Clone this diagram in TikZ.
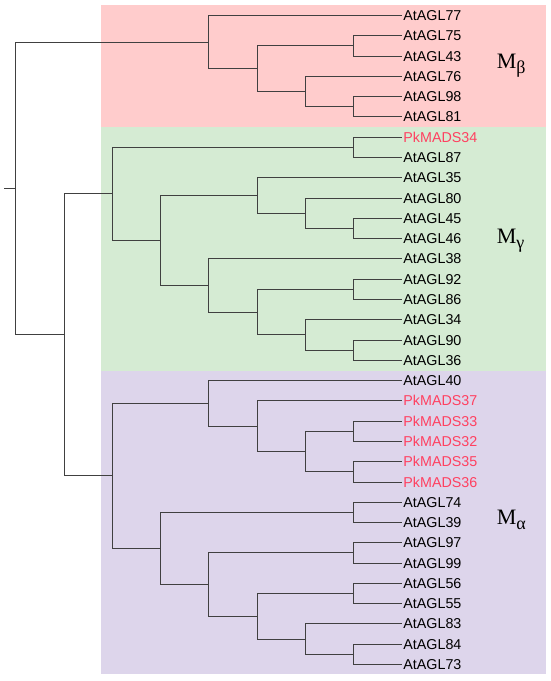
\documentclass[tikz,border=0pt]{standalone}
\usepackage{fontspec}
\setmainfont{Liberation Serif}
\newfontfamily\labfont{Liberation Sans}
\definecolor{pinkbg}{RGB}{255,204,204}
\definecolor{greenbg}{RGB}{213,235,211}
\definecolor{purplebg}{RGB}{221,213,235}
\definecolor{branch}{RGB}{64,64,64}
\definecolor{pkred}{RGB}{255,64,96}
\tikzset{
  leaf/.style={anchor=west, inner sep=1.5pt, font=\labfont\fontsize{14.3}{15}\selectfont, text=black},
  pk/.style={leaf, text=pkred},
  br/.style={draw=branch, line width=1.9pt},
  clade/.style={anchor=base west, inner sep=0pt, font=\fontsize{22}{22}\selectfont}
}
\newcommand{\subg}[1]{\raisebox{-5pt}{\fontsize{18}{18}\selectfont #1}}
\begin{document}
\begin{tikzpicture}[x=1pt,y=-1pt]
\useasboundingbox (0,0) rectangle (550,681);
% backgrounds
\fill[pinkbg] (100.7,5) rectangle (545.5,126.7);
\fill[greenbg] (100.7,126.7) rectangle (545.5,370.7);
\fill[purplebg] (100.7,370.7) rectangle (545.5,674.3);
% leaves
\node[leaf] (l77) at (401.7,15.5) {AtAGL77};
\node[leaf] (l75) at (401.7,35.5) {AtAGL75};
\node[leaf] (l43) at (401.7,56.5) {AtAGL43};
\node[leaf] (l76) at (401.7,76.5) {AtAGL76};
\node[leaf] (l98) at (401.7,96.5) {AtAGL98};
\node[leaf] (l81) at (401.7,116.5) {AtAGL81};
\node[pk] (p34) at (401.7,137.5) {PkMADS34};
\node[leaf] (l87) at (401.7,157.5) {AtAGL87};
\node[leaf] (l35) at (401.7,177.5) {AtAGL35};
\node[leaf] (l80) at (401.7,198.5) {AtAGL80};
\node[leaf] (l45) at (401.7,218.5) {AtAGL45};
\node[leaf] (l46) at (401.7,238.5) {AtAGL46};
\node[leaf] (l38) at (401.7,258.5) {AtAGL38};
\node[leaf] (l92) at (401.7,279.5) {AtAGL92};
\node[leaf] (l86) at (401.7,299.5) {AtAGL86};
\node[leaf] (l34) at (401.7,319.5) {AtAGL34};
\node[leaf] (l90) at (401.7,340.5) {AtAGL90};
\node[leaf] (l36) at (401.7,360.5) {AtAGL36};
\node[leaf] (l40) at (401.7,380.5) {AtAGL40};
\node[pk] (p37) at (401.7,400.5) {PkMADS37};
\node[pk] (p33) at (401.7,421.5) {PkMADS33};
\node[pk] (p32) at (401.7,441.5) {PkMADS32};
\node[pk] (p35) at (401.7,461.5) {PkMADS35};
\node[pk] (p36) at (401.7,482.5) {PkMADS36};
\node[leaf] (l74) at (401.7,502.5) {AtAGL74};
\node[leaf] (l39) at (401.7,522.5) {AtAGL39};
\node[leaf] (l97) at (401.7,542.5) {AtAGL97};
\node[leaf] (l99) at (401.7,563.5) {AtAGL99};
\node[leaf] (l56) at (401.7,583.5) {AtAGL56};
\node[leaf] (l55) at (401.7,603.5) {AtAGL55};
\node[leaf] (l83) at (401.7,623.5) {AtAGL83};
\node[leaf] (l84) at (401.7,644.5) {AtAGL84};
\node[leaf] (l73) at (401.7,664.5) {AtAGL73};
% internal nodes
\coordinate (stub) at (4,188.5);
\coordinate (root) at (15.5,188.5);
\coordinate (bet) at (208.5,42.5);
\coordinate (b1) at (257.5,68.5);
\coordinate (b7543) at (353.5,45.5);
\coordinate (b2) at (305.5,91.5);
\coordinate (b9881) at (353.5,106.5);
\coordinate (anc) at (64.5,334.5);
\coordinate (gam) at (112.5,193.5);
\coordinate (g3487) at (353.5,147.5);
\coordinate (g1) at (160.5,240.5);
\coordinate (g2) at (257.5,195.5);
\coordinate (g2b) at (305.5,213.5);
\coordinate (g4546) at (353.5,228.5);
\coordinate (g3) at (208.5,285.5);
\coordinate (g3b) at (257.5,312.5);
\coordinate (g9286) at (353.5,289.5);
\coordinate (g3c) at (305.5,334.5);
\coordinate (g9036) at (353.5,350.5);
\coordinate (alp) at (112.5,475.5);
\coordinate (a1) at (208.5,403.5);
\coordinate (a1b) at (257.5,426.5);
\coordinate (a1c) at (305.5,451.5);
\coordinate (a3332) at (353.5,431.5);
\coordinate (a3536) at (353.5,471.5);
\coordinate (a2) at (160.5,548.5);
\coordinate (a7439) at (353.5,512.5);
\coordinate (a2b) at (208.5,584.5);
\coordinate (a9799) at (353.5,552.5);
\coordinate (a2c) at (257.5,616.5);
\coordinate (a5655) at (353.5,593.5);
\coordinate (a2d) at (305.5,639.5);
\coordinate (a8473) at (353.5,654.5);
% branches
\draw[br] (stub) -- (root);
\draw[br] (root) |- (bet); \draw[br] (root) |- (anc);
\draw[br] (bet) |- (l77.west); \draw[br] (bet) |- (b1);
\draw[br] (b1) |- (b7543); \draw[br] (b1) |- (b2);
\draw[br] (b7543) |- (l75.west); \draw[br] (b7543) |- (l43.west);
\draw[br] (b2) |- (l76.west); \draw[br] (b2) |- (b9881);
\draw[br] (b9881) |- (l98.west); \draw[br] (b9881) |- (l81.west);
\draw[br] (anc) |- (gam); \draw[br] (anc) |- (alp);
\draw[br] (gam) |- (g3487); \draw[br] (gam) |- (g1);
\draw[br] (g3487) |- (p34.west); \draw[br] (g3487) |- (l87.west);
\draw[br] (g1) |- (g2); \draw[br] (g1) |- (g3);
\draw[br] (g2) |- (l35.west); \draw[br] (g2) |- (g2b);
\draw[br] (g2b) |- (l80.west); \draw[br] (g2b) |- (g4546);
\draw[br] (g4546) |- (l45.west); \draw[br] (g4546) |- (l46.west);
\draw[br] (g3) |- (l38.west); \draw[br] (g3) |- (g3b);
\draw[br] (g3b) |- (g9286); \draw[br] (g3b) |- (g3c);
\draw[br] (g9286) |- (l92.west); \draw[br] (g9286) |- (l86.west);
\draw[br] (g3c) |- (l34.west); \draw[br] (g3c) |- (g9036);
\draw[br] (g9036) |- (l90.west); \draw[br] (g9036) |- (l36.west);
\draw[br] (alp) |- (a1); \draw[br] (alp) |- (a2);
\draw[br] (a1) |- (l40.west); \draw[br] (a1) |- (a1b);
\draw[br] (a1b) |- (p37.west); \draw[br] (a1b) |- (a1c);
\draw[br] (a1c) |- (a3332); \draw[br] (a1c) |- (a3536);
\draw[br] (a3332) |- (p33.west); \draw[br] (a3332) |- (p32.west);
\draw[br] (a3536) |- (p35.west); \draw[br] (a3536) |- (p36.west);
\draw[br] (a2) |- (a7439); \draw[br] (a2) |- (a2b);
\draw[br] (a7439) |- (l74.west); \draw[br] (a7439) |- (l39.west);
\draw[br] (a2b) |- (a9799); \draw[br] (a2b) |- (a2c);
\draw[br] (a9799) |- (l97.west); \draw[br] (a9799) |- (l99.west);
\draw[br] (a2c) |- (a5655); \draw[br] (a2c) |- (a2d);
\draw[br] (a5655) |- (l56.west); \draw[br] (a5655) |- (l55.west);
\draw[br] (a2d) |- (l83.west); \draw[br] (a2d) |- (a8473);
\draw[br] (a8473) |- (l84.west); \draw[br] (a8473) |- (l73.west);
% clade labels
\node[clade] (mb) at (496.7,68.3) {M\subg{β}};
\node[clade] (mg) at (496.7,243.3) {M\subg{γ}};
\node[clade] (ma) at (496.7,524.3) {M\subg{α}};
\end{tikzpicture}
\end{document}
